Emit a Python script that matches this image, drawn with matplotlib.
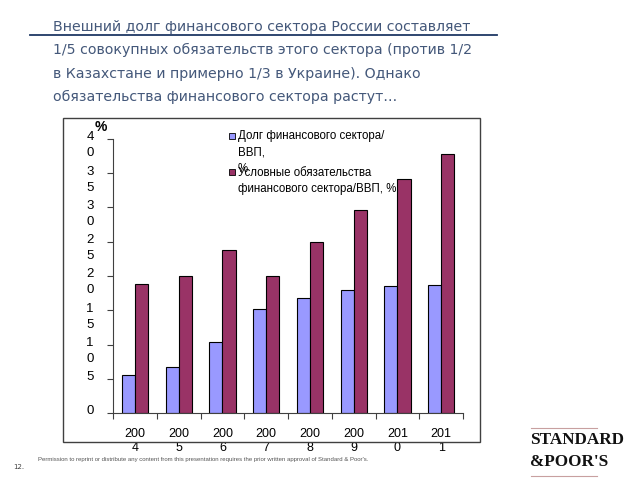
import numpy as np
import matplotlib.pyplot as plt
from matplotlib.patches import Rectangle
from matplotlib.lines import Line2D

# data
years = ["2004", "2005", "2006", "2007", "2008", "2009", "2010", "2011"]
debt_gdp = [5.6, 6.7, 10.4, 15.2, 16.8, 17.9, 18.6, 18.7]
contingent_gdp = [18.8, 20.0, 23.8, 20.0, 24.9, 29.6, 34.2, 37.8]
yticks = [0, 5, 10, 15, 20, 25, 30, 35, 40]

title_lines = ["Внешний долг финансового сектора России составляет",
               "1/5 совокупных обязательств этого сектора (против 1/2",
               "в Казахстане и примерно 1/3 в Украине). Однако",
               "обязательства финансового сектора растут…"]
leg_debt = "Долг финансового сектора/\nВВП,\n%"
leg_cont = "Условные обязательства\nфинансового сектора/ВВП, %"

W, H = 640, 480
def fx(px):
    return px / W
def fy(py):
    return 1 - py / H

fig = plt.figure(figsize=(6.4, 4.8), dpi=100)
fig.patch.set_facecolor("white")

# title
title_col = "#44587a"
for i, line in enumerate(title_lines):
    fig.text(fx(53), fy(27 + i * 23.3), line, fontsize=10.2, color=title_col,
             family="DejaVu Sans", va="center", ha="left")
fig.add_artist(Line2D([fx(30), fx(497)], [fy(35), fy(35)], color="#1f3864", lw=1.3))

# chart frame
fig.add_artist(Rectangle((fx(63), fy(442)), fx(480) - fx(63), fy(118) - fy(442),
                         transform=fig.transFigure, fill=False, ec="#404040", lw=1))

ax = fig.add_axes([fx(113), fy(413), fx(463) - fx(113), fy(139) - fy(413)])
x = np.arange(len(years))
w = 0.3
ax.bar(x - w / 2, debt_gdp, w, color="#9999ff", edgecolor="black", linewidth=0.8)
ax.bar(x + w / 2, contingent_gdp, w, color="#993366", edgecolor="black", linewidth=0.8)
ax.set_xlim(-0.5, len(years) - 0.5)
ax.set_ylim(0, 40)
for s in ["top", "right"]:
    ax.spines[s].set_visible(False)
for s in ["left", "bottom"]:
    ax.spines[s].set_color("#404040")

ax.set_yticks(yticks)
ax.set_yticklabels([])
ax.tick_params(axis="y", direction="out", length=4, color="#404040")
for v in yticks:
    lab = "\n".join(str(v))
    ax.annotate(lab, xy=(0, v), xycoords=("axes fraction", "data"),
                xytext=(-16.5, 5.5), textcoords="offset points", ha="center", va="top",
                fontsize=9.5, family="Liberation Sans", linespacing=1.45)

ax.set_xticks(np.arange(len(years) + 1) - 0.5)
ax.set_xticklabels([])
ax.tick_params(axis="x", direction="out", length=4, color="#404040")
for i, yr in enumerate(years):
    ax.annotate(yr[:3] + "\n" + yr[3:], xy=(i, 0), xycoords=("data", "axes fraction"),
                xytext=(0, -10.5), textcoords="offset points", ha="center", va="top",
                fontsize=9, family="Liberation Sans", linespacing=1.25)

fig.text(fx(101), fy(127), "%", fontsize=10, weight="bold", family="Liberation Sans",
         ha="center", va="center")

# legend drawn by hand to keep the slide's layout (the "%" overlaps as on the slide)
fig.add_artist(Rectangle((fx(229), fy(139)), fx(6), fy(133) - fy(139), transform=fig.transFigure,
                         fc="#9999ff", ec="black", lw=0.6))
fig.add_artist(Rectangle((fx(229), fy(175)), fx(6), fy(169) - fy(175), transform=fig.transFigure,
                         fc="#993366", ec="black", lw=0.6))
fig.text(fx(238), fy(129.5), leg_debt, fontsize=8.3, family="Liberation Sans", va="top",
         ha="left", linespacing=1.55)
fig.text(fx(238), fy(166.5), leg_cont, fontsize=8.3, family="Liberation Sans", va="top",
         ha="left", linespacing=1.55)

# footer
fig.text(fx(13), fy(467), "12.", fontsize=5, color="#404040", va="center")
fig.text(fx(38), fy(459),
         "Permission to reprint or distribute any content from this presentation requires the prior written approval of Standard & Poor's.",
         fontsize=4.3, color="#555555", va="center", family="Liberation Sans")
fig.add_artist(Line2D([fx(531), fx(597)], [fy(428), fy(428)], color="#c8a0a0", lw=0.8))
fig.add_artist(Line2D([fx(531), fx(597)], [fy(476), fy(476)], color="#c8a0a0", lw=0.8))
fig.text(fx(530), fy(440), "STANDARD", fontsize=12.3, family="Liberation Serif",
         weight="bold", va="center", ha="left", color="#111111")
fig.text(fx(530), fy(462), "&POOR'S", fontsize=12.3, family="Liberation Serif",
         weight="bold", va="center", ha="left", color="#111111")

fig.savefig("out.png", dpi=100)
